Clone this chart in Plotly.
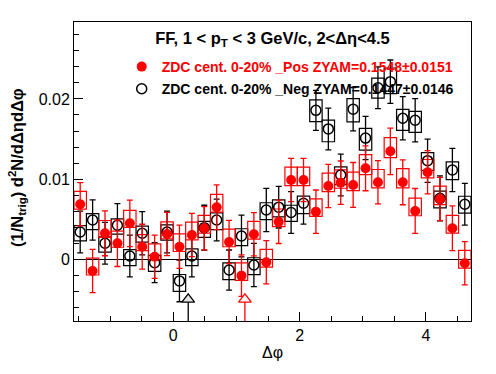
import numpy as np
import plotly.graph_objects as go

# ---- data ----
n_bins = 32
bin_width = np.pi / 16
dphi = [-np.pi / 2 + (i + 0.5) * bin_width for i in range(n_bins)]

pos_vals = [0.00686, -0.00146, 0.00324, 0.0020, 0.00449, 0.00157, 0.00032, 0.00316,
            0.00157, 0.00303, 0.00387, 0.00649, 0.00216, -0.00204, 0.00312, -0.00037,
            0.00467, 0.00989, 0.00989, 0.00594, 0.00915, 0.00956, 0.00927, 0.01135,
            0.0096, 0.01347, 0.0096, 0.00603, 0.01085, 0.00752, 0.00387, -0.0005]
pos_stat = [0.0027, 0.0027, 0.0028, 0.0029, 0.0029, 0.0028, 0.0027, 0.0027,
            0.0027, 0.0027, 0.0027, 0.0028, 0.0027, 0.0026, 0.0027, 0.0027,
            0.0027, 0.0027, 0.0027, 0.0027, 0.0027, 0.0027, 0.0028, 0.0028,
            0.0027, 0.0029, 0.0028, 0.0028, 0.0027, 0.0027, 0.0028, 0.0027]
pos_sys_hi = [0.0016, 0.0016, 0.0016, 0.0015, 0.0016, 0.0015, 0.0016, 0.0015,
              0.0016, 0.0016, 0.0016, 0.0016, 0.0016, 0.0016, 0.0016, 0.0016,
              0.0016, 0.0016, 0.0016, 0.0016, 0.0016, 0.0016, 0.0016, 0.0017,
              0.0016, 0.0017, 0.0017, 0.0016, 0.0016, 0.0016, 0.0016, 0.0016]
pos_sys_lo = [0.0006, 0.0005, 0.0005, 0.0005, 0.0005, 0.0005, 0.0004, 0.0006,
              0.0006, 0.0006, 0.0006, 0.0006, 0.0006, 0.0006, 0.0006, 0.0006,
              0.0006, 0.0007, 0.0007, 0.0006, 0.0007, 0.0007, 0.0007, 0.0008,
              0.0007, 0.0008, 0.0007, 0.0006, 0.0007, 0.0007, 0.0006, 0.0006]

neg_vals = [0.0034, 0.0049, 0.0020, 0.00424, 0.00041, 0.00324, -0.00042, 0.0034,
            -0.0027, 0.00041, 0.00394, 0.0049, -0.00134, 0.00291, -0.00071, 0.00615,
            0.0065, 0.00584, 0.00699, 0.01858, 0.01626, 0.01052, 0.01873, 0.01512,
            0.0214, 0.02216, 0.01759, 0.01734, 0.0123, 0.0076, 0.01114, 0.00686]
neg_stat = [0.0026, 0.0025, 0.0026, 0.0027, 0.0026, 0.0027, 0.0025, 0.0026,
            0.0026, 0.0026, 0.0028, 0.0026, 0.0025, 0.0026, 0.0027, 0.0027,
            0.0026, 0.0026, 0.0026, 0.0025, 0.0026, 0.0026, 0.0027, 0.0027,
            0.0026, 0.0027, 0.0027, 0.0027, 0.0027, 0.0028, 0.0027, 0.0026]
neg_sys_hi = [0.0008, 0.0008, 0.0008, 0.0008, 0.0008, 0.0009, 0.0009, 0.0009,
              0.0008, 0.0009, 0.0008, 0.0009, 0.0009, 0.0009, 0.0009, 0.0009,
              0.0009, 0.0009, 0.0009, 0.0013, 0.0011, 0.0010, 0.0013, 0.0012,
              0.0012, 0.0017, 0.0011, 0.0011, 0.0010, 0.0009, 0.0010, 0.0010]
neg_sys_lo = [0.0011, 0.0012, 0.0011, 0.0011, 0.0012, 0.0011, 0.0011, 0.0010,
              0.0013, 0.0012, 0.0012, 0.0012, 0.0012, 0.0012, 0.0012, 0.0012,
              0.0012, 0.0011, 0.0013, 0.0014, 0.0016, 0.0012, 0.0016, 0.0015,
              0.0013, 0.0015, 0.0015, 0.0015, 0.0012, 0.0012, 0.0012, 0.0011]

# ZYAM minimum positions (arrow markers)
zyam_min_x = [0.237, 1.134]          # Neg, Pos
zyam_marker_y = -0.0050
y_range = [-0.0077, 0.0296]
x_range = [-np.pi / 2, 3 * np.pi / 2]

pos_name = "ZDC cent. 0-20% _Pos ZYAM=0.1548±0.0151"
neg_name = "ZDC cent. 0-20% _Neg ZYAM=0.1447±0.0146"
title_text = "<b>FF, 1 &lt; p<sub>T</sub> &lt; 3 GeV/c, 2&lt;Δη&lt;4.5</b>"
ytitle = "<b>(1/N<sub>trig</sub>) d<sup>2</sup>N/dΔηdΔφ</b>"
xtitle = "Δφ"

RED = "#ff0000"
BLK = "#000000"
FONT = "Liberation Sans, Arial, sans-serif"

fig = go.Figure()


def add_series(vals, stat, hi, lo, color, symbol, name, rank):
    base = [v - l for v, l in zip(vals, lo)]
    height = [h + l for h, l in zip(hi, lo)]
    fig.add_trace(go.Bar(
        x=dphi, y=height, base=base, width=bin_width,
        marker=dict(color="rgba(0,0,0,0)", line=dict(color=color, width=1.2)),
        showlegend=False, hoverinfo="skip"))
    mk = dict(symbol=symbol, size=10, color=color)
    if symbol == "circle-open":
        mk["line"] = dict(width=1.5, color=color)
    fig.add_trace(go.Scatter(
        x=dphi, y=vals, mode="markers",
        error_y=dict(type="data", array=stat, color=color, thickness=1.3, width=3),
        marker=mk,
        name=f"<b><span style='color:{color}'>{name}</span></b>",
        legendrank=rank, legendgroup=name))


add_series(neg_vals, neg_stat, neg_sys_hi, neg_sys_lo, BLK, "circle-open", neg_name, 2)
add_series(pos_vals, pos_stat, pos_sys_hi, pos_sys_lo, RED, "circle", pos_name, 1)

# ZYAM minimum arrows
for xm, col, fill in [(zyam_min_x[0], BLK, "#e4e4e4"), (zyam_min_x[1], RED, "#ffffff")]:
    fig.add_trace(go.Scatter(
        x=[xm, xm], y=[y_range[0], zyam_marker_y], mode="lines",
        line=dict(color=col, width=1.3), showlegend=False, hoverinfo="skip"))
    fig.add_trace(go.Scatter(
        x=[xm], y=[zyam_marker_y], mode="markers",
        marker=dict(symbol="triangle-up", size=11, color=fill,
                    line=dict(color=col, width=1.3)),
        showlegend=False, hoverinfo="skip"))

fig.update_layout(
    width=496, height=374,
    margin=dict(l=74, r=25, t=22, b=53),
    paper_bgcolor="white", plot_bgcolor="white",
    barmode="overlay",
    font=dict(family=FONT, color="black"),
    title=dict(text=title_text, x=0.5, xanchor="center", xref="paper",
               y=1 - 38 / 374, yanchor="middle", yref="container",
               font=dict(size=16.5, family=FONT)),
    showlegend=True,
    legend=dict(x=(141.7 - 20 - 74) / 397, y=1 - (51 - 22) / 299,
                xanchor="left", yanchor="top",
                bgcolor="rgba(0,0,0,0)", borderwidth=0,
                font=dict(size=14, family=FONT),
                traceorder="grouped", tracegroupgap=1),
    xaxis=dict(range=x_range, showgrid=False, zeroline=False,
               showline=True, mirror=True, linecolor="black", linewidth=1,
               ticks="inside", ticklen=9, tickwidth=1, tickcolor="black",
               tickvals=[0, 2, 4], ticktext=["0", "2", "4"],
               tickfont=dict(size=16, family=FONT),
               minor=dict(dtick=0.5, tick0=0, ticks="inside", ticklen=5,
                          tickcolor="black", showgrid=False),
               title=dict(text=xtitle, font=dict(size=16, family=FONT), standoff=3)),
    yaxis=dict(range=y_range, showgrid=False, zeroline=True,
               zerolinecolor="black", zerolinewidth=1,
               showline=True, mirror=True, linecolor="black", linewidth=1,
               ticks="inside", ticklen=9, tickwidth=1, tickcolor="black",
               tickvals=[0, 0.01, 0.02], ticktext=["0", "0.01", "0.02"],
               tickfont=dict(size=16, family=FONT),
               minor=dict(dtick=0.002, tick0=0, ticks="inside", ticklen=5,
                          tickcolor="black", showgrid=False)),
    annotations=[dict(text=ytitle, textangle=-90, xref="paper", yref="paper",
                      x=(17 - 74) / 397, y=(321 - 168) / 299,
                      xanchor="center", yanchor="middle", showarrow=False,
                      font=dict(size=16.5, family=FONT))],
)

fig.write_html("out.html", config={"displayModeBar": False},
               post_script="document.body.style.margin='0px';")
